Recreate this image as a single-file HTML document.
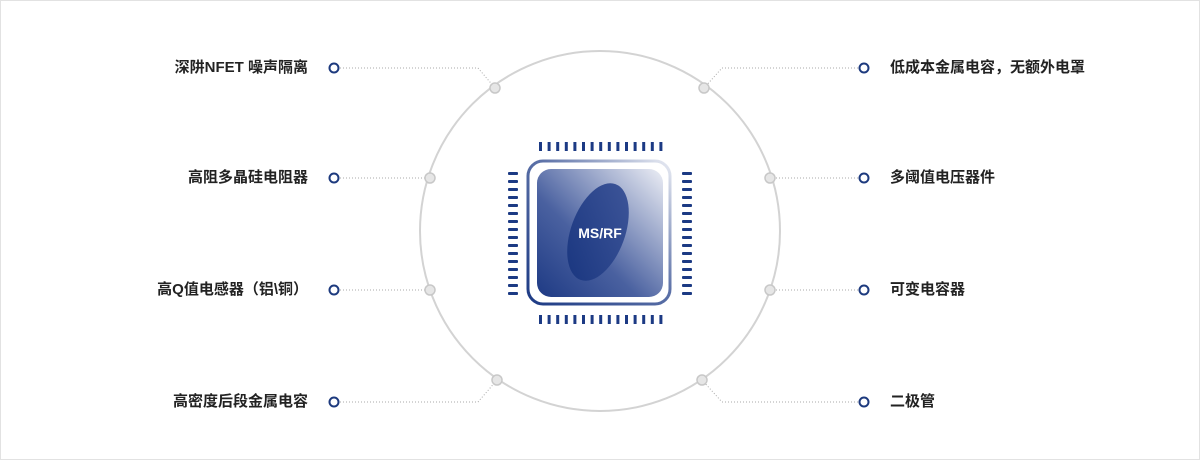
<!DOCTYPE html>
<html><head><meta charset="utf-8"><style>
body{margin:0;background:#fff}
.w{position:relative;width:1198px;height:458px;border:1px solid #e2e2e2;overflow:hidden;font-family:"Liberation Sans","Noto Sans CJK SC",sans-serif}
.t{position:absolute;font-size:15px;font-weight:bold;color:#222;line-height:20px;white-space:nowrap}
.l{right:891px;text-align:right}
.r{left:889px}
</style></head><body><div class="w">
<svg width="1200" height="460" style="position:absolute;left:-1px;top:-1px">
<defs>
<linearGradient id="g1" x1="0" y1="1" x2="1" y2="0"><stop offset="0" stop-color="#1c3a84"/><stop offset="0.55" stop-color="#5d72a8"/><stop offset="1" stop-color="#e8ebf3"/></linearGradient>
<linearGradient id="g2" x1="0" y1="1" x2="1" y2="0"><stop offset="0" stop-color="#1e3a84"/><stop offset="0.4" stop-color="#4a61a0"/><stop offset="1" stop-color="#eceef5"/></linearGradient>
<linearGradient id="g3" x1="0" y1="1" x2="0.6" y2="0"><stop offset="0" stop-color="#17347e"/><stop offset="1" stop-color="#3a5296"/></linearGradient>
</defs>
<circle cx="600" cy="231" r="180" fill="none" stroke="#d3d3d3" stroke-width="2"/>
<g fill="none" stroke="#aaa" stroke-width="1" stroke-dasharray="1,2">
<polyline points="340,68 478,68 495,88"/>
<polyline points="340,178 430,178"/>
<polyline points="340,290 430,290"/>
<polyline points="340,402 478,402 497,380"/>
<polyline points="858,68 722,68 704,88"/>
<polyline points="858,178 770,178"/>
<polyline points="858,290 770,290"/>
<polyline points="858,402 722,402 702,380"/>
</g>
<g fill="#e6e6e6" stroke="#c8c8c8" stroke-width="1.5">
<circle cx="495" cy="88" r="5"/><circle cx="430" cy="178" r="5"/><circle cx="430" cy="290" r="5"/><circle cx="497" cy="380" r="5"/>
<circle cx="704" cy="88" r="5"/><circle cx="770" cy="178" r="5"/><circle cx="770" cy="290" r="5"/><circle cx="702" cy="380" r="5"/>
</g>
<g fill="#fff" stroke="#1d3a7e" stroke-width="2">
<circle cx="334" cy="68" r="4.5"/><circle cx="334" cy="178" r="4.5"/><circle cx="334" cy="290" r="4.5"/><circle cx="334" cy="402" r="4.5"/>
<circle cx="864" cy="68" r="4.5"/><circle cx="864" cy="178" r="4.5"/><circle cx="864" cy="290" r="4.5"/><circle cx="864" cy="402" r="4.5"/>
</g>
<rect x="528" y="161" width="142" height="143" rx="15" fill="none" stroke="url(#g1)" stroke-width="3"/>
<rect x="537" y="169" width="126" height="128" rx="14" fill="url(#g2)"/>
<ellipse cx="598" cy="232" rx="27" ry="51" transform="rotate(20 598 232)" fill="url(#g3)"/>
<text x="600" y="238" text-anchor="middle" font-family="Liberation Sans" font-weight="bold" font-size="14" fill="#fff">MS/RF</text>
<g fill="#1c3a84" id="pins">
<g id="tp">
<rect x="539" y="142" width="3" height="9"/><rect x="547.6" y="142" width="3" height="9"/><rect x="556.2" y="142" width="3" height="9"/><rect x="564.8" y="142" width="3" height="9"/><rect x="573.4" y="142" width="3" height="9"/><rect x="582" y="142" width="3" height="9"/><rect x="590.6" y="142" width="3" height="9"/><rect x="599.2" y="142" width="3" height="9"/><rect x="607.8" y="142" width="3" height="9"/><rect x="616.4" y="142" width="3" height="9"/><rect x="625" y="142" width="3" height="9"/><rect x="633.6" y="142" width="3" height="9"/><rect x="642.2" y="142" width="3" height="9"/><rect x="650.8" y="142" width="3" height="9"/><rect x="659.4" y="142" width="3" height="9"/>
</g>
<use href="#tp" y="173"/>
<g id="lp">
<rect x="508" y="172" width="10" height="3" rx="1"/><rect x="508" y="180" width="10" height="3" rx="1"/><rect x="508" y="188" width="10" height="3" rx="1"/><rect x="508" y="196" width="10" height="3" rx="1"/><rect x="508" y="204" width="10" height="3" rx="1"/><rect x="508" y="212" width="10" height="3" rx="1"/><rect x="508" y="220" width="10" height="3" rx="1"/><rect x="508" y="228" width="10" height="3" rx="1"/><rect x="508" y="236" width="10" height="3" rx="1"/><rect x="508" y="244" width="10" height="3" rx="1"/><rect x="508" y="252" width="10" height="3" rx="1"/><rect x="508" y="260" width="10" height="3" rx="1"/><rect x="508" y="268" width="10" height="3" rx="1"/><rect x="508" y="276" width="10" height="3" rx="1"/><rect x="508" y="284" width="10" height="3" rx="1"/><rect x="508" y="292" width="10" height="3" rx="1"/>
</g>
<use href="#lp" x="174"/>
</g>
</svg>
<div class="t l" style="top:57px">深阱NFET 噪声隔离</div>
<div class="t l" style="top:167px">高阻多晶硅电阻器</div>
<div class="t l" style="top:279px">高Q值电感器（铝\铜）</div>
<div class="t l" style="top:391px">高密度后段金属电容</div>
<div class="t r" style="top:57px">低成本金属电容，无额外电罩</div>
<div class="t r" style="top:167px">多阈值电压器件</div>
<div class="t r" style="top:279px">可变电容器</div>
<div class="t r" style="top:391px">二极管</div>
</div></body></html>
